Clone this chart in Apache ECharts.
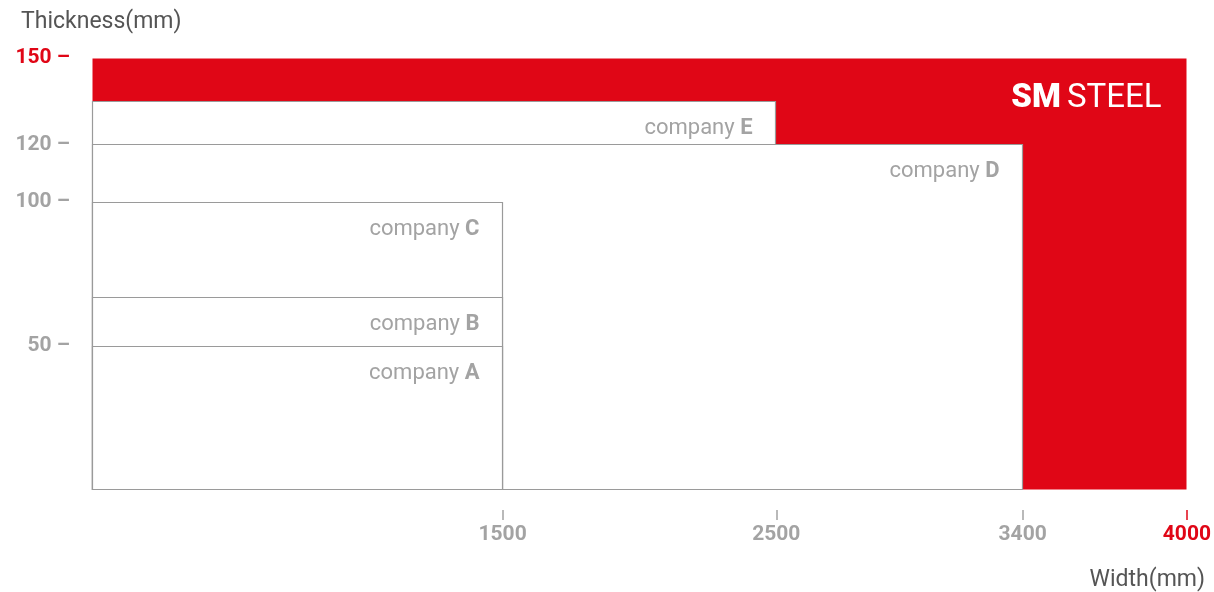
<!DOCTYPE html>
<html>
<head>
<meta charset="utf-8">
<script src="https://cdn.jsdelivr.net/npm/echarts@6/dist/echarts.min.js"></script>
<style>html,body{margin:0;padding:0;background:#fff;}#c{width:1214px;height:592px;}</style>
</head>
<body>
<div id="c"></div>
<script>
const companies = ['SM STEEL', 'company E', 'company D', 'company C', 'company B', 'company A'];
const widths = [4000, 2500, 3400, 1500, 1500, 1500];
const thickness = [150, 135, 120, 100, 67, 50];
const xTicks = [1500, 2500, 3400, 4000];
const yTicks = [50, 100, 120, 150];

const RED = '#e00616';
const GRAY = '#a3a3a3';
const BORDER = '#9a9a9a';
const FONT = 'Roboto, "Noto Sans", sans-serif';

const maxX = Math.max(...xTicks);
const maxY = Math.max(...yTicks);

const chart = echarts.init(document.getElementById('c'));
const data = companies.map((n, i) => [n, widths[i], thickness[i]]);

function xAxisDef(values, color) {
  return {
    type: 'value', min: 0, max: maxX, offset: 20, position: 'bottom',
    axisLine: { show: false, onZero: false }, splitLine: { show: false },
    axisTick: { show: true, length: 10, customValues: values, lineStyle: { color: color, width: 1.5 } },
    axisLabel: { customValues: values, margin: 14, formatter: v => String(v), fontFamily: FONT, fontSize: 21, fontWeight: 'bold', color: color }
  };
}

chart.setOption({
  animation: false,
  title: [
    { text: 'Thickness(mm)', left: 16, top: 6, textStyle: { fontFamily: FONT, fontSize: 23, fontWeight: 'normal', color: '#555' } },
    { text: 'Width(mm)', right: 4, top: 564, textStyle: { fontFamily: FONT, fontSize: 23, fontWeight: 'normal', color: '#555' } }
  ],
  grid: { left: 92, right: 26, top: 58, bottom: 102 },
  xAxis: [
    xAxisDef(xTicks.filter(v => v !== maxX), GRAY),
    xAxisDef([maxX], RED)
  ],
  yAxis: {
    type: 'value', min: 0, max: maxY,
    axisLine: { show: false }, axisTick: { show: false }, splitLine: { show: false },
    axisLabel: {
      customValues: yTicks, margin: 22,
      formatter: v => v + ' –',
      fontFamily: FONT, fontSize: 21, fontWeight: 'bold',
      color: v => (String(v).indexOf(String(maxY)) === 0) ? RED : GRAY
    }
  },
  series: [{
    type: 'custom',
    xAxisIndex: 0,
    data: data,
    renderItem: function (params, api) {
      const i = params.dataIndex;
      const p0 = api.coord([0, 0]);
      const p1 = api.coord([api.value(1), api.value(2)]);
      const x0 = Math.round(p0[0]) + 0.5, x1 = Math.round(p1[0]) - 0.5;
      const y0 = Math.round(p0[1]) - 0.5, y1 = Math.round(p1[1]) + 0.5;
      const name = companies[i];
      const isMain = i === 0;
      const children = [{
        type: 'rect',
        shape: { x: x0, y: y1, width: x1 - x0, height: y0 - y1 },
        style: isMain ? { fill: RED } : { fill: '#fff', stroke: BORDER, lineWidth: 1.2 }
      }];
      if (isMain) {
        const parts = name.split(' ');
        children.push({
          type: 'text', x: x1 - 25, y: y1 + 40,
          style: {
            text: '{s|' + parts[0] + '}{t|' + parts[1] + '}',
            align: 'right', verticalAlign: 'middle',
            rich: {
              s: { fontFamily: FONT, fontSize: 33, fontWeight: 900, fill: '#fff', padding: [0, 6, 0, 0] },
              t: { fontFamily: FONT, fontSize: 33, fontWeight: 400, fill: '#fff' }
            }
          }
        });
      } else {
        const k = name.lastIndexOf(' ');
        children.push({
          type: 'text', x: x1 - 23, y: y1 + 27,
          style: {
            text: '{a|' + name.slice(0, k + 1) + '}{b|' + name.slice(k + 1) + '}',
            align: 'right', verticalAlign: 'middle',
            rich: {
              a: { fontFamily: FONT, fontSize: 22, fontWeight: 400, fill: GRAY },
              b: { fontFamily: FONT, fontSize: 22, fontWeight: 'bold', fill: GRAY }
            }
          }
        });
      }
      return { type: 'group', children: children };
    }
  }]
});
</script>
</body>
</html>
